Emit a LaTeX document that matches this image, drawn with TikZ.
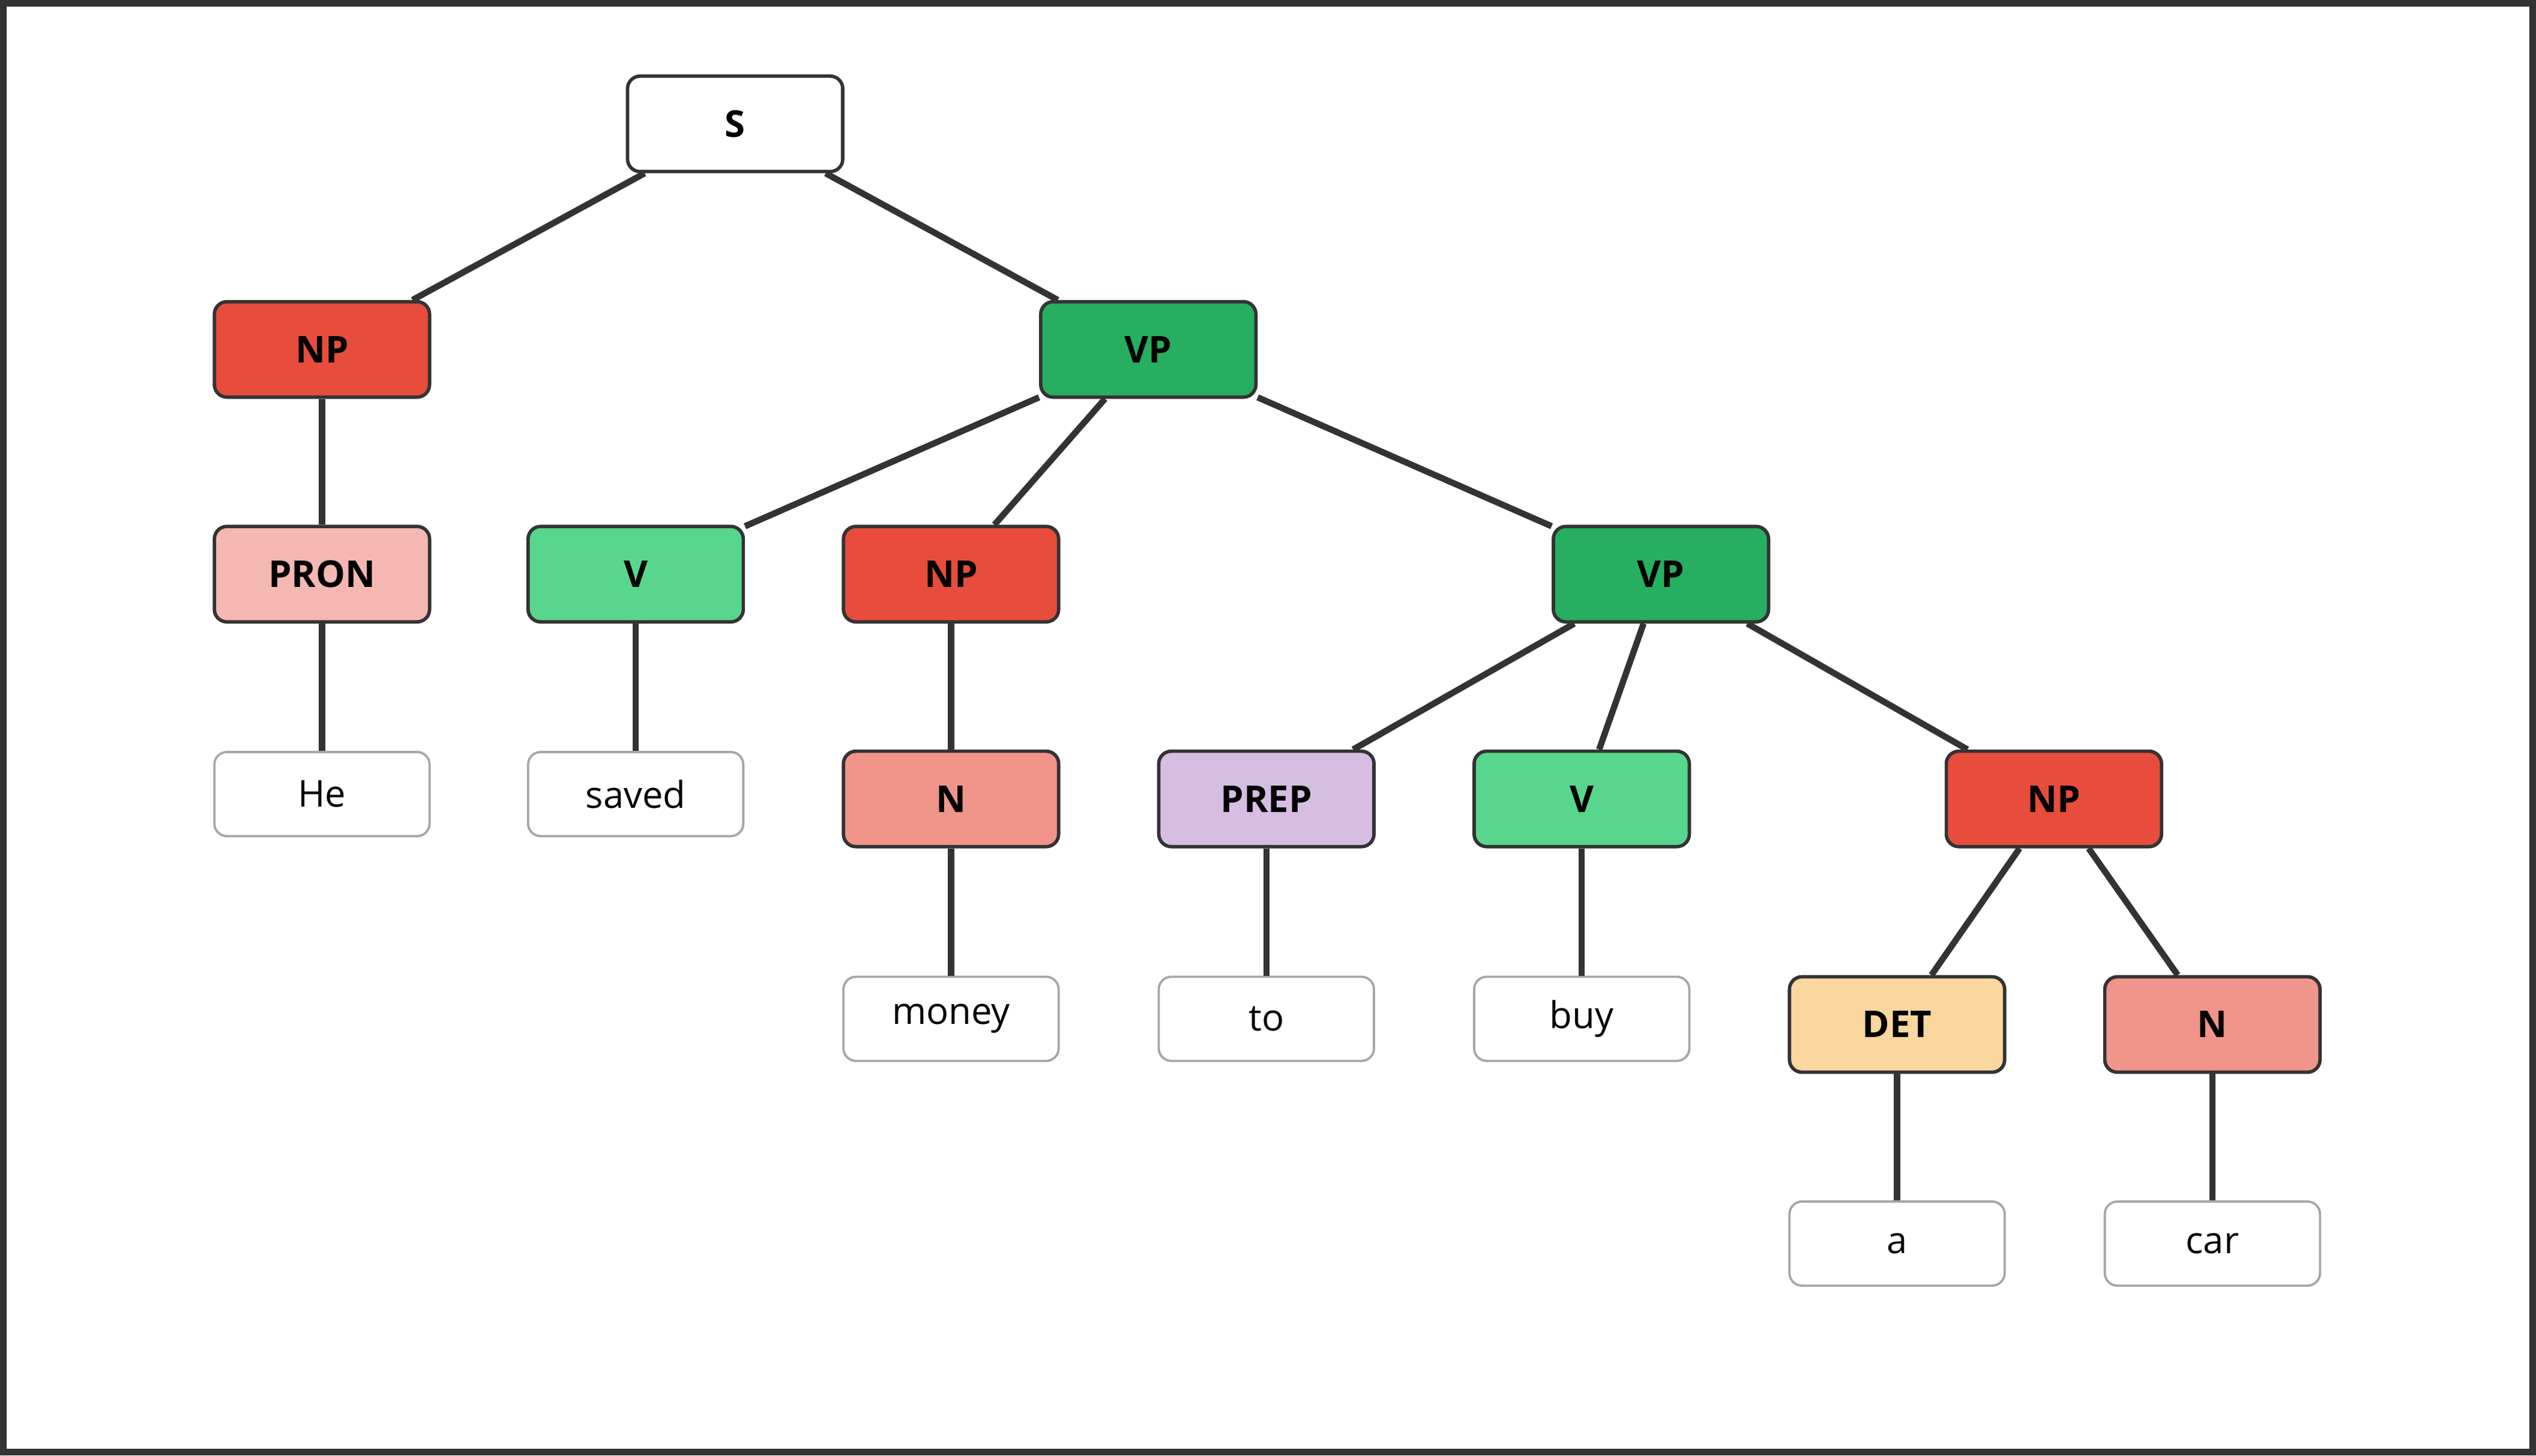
\documentclass[tikz,border=0pt]{standalone}
\usepackage{fontspec}
\setmainfont{Open Sans}
\usepackage{xcolor}
\definecolor{npred}{HTML}{E74C3C}
\definecolor{vpgreen}{HTML}{27AE60}
\definecolor{vgreen}{HTML}{58D68D}
\definecolor{pronpink}{HTML}{F5B7B1}
\definecolor{nsalmon}{HTML}{F1948A}
\definecolor{preplilac}{HTML}{D7BDE2}
\definecolor{detsand}{HTML}{F9D79F}
\definecolor{edgegray}{HTML}{333333}

\begin{document}
\begin{tikzpicture}[x=0.01cm, y=-0.01cm,
	tag/.style={draw=edgegray, line width=0.6pt, rounded corners=2.2pt, minimum width=1.33cm, minimum height=0.59cm, font=\fontsize{6.5}{8}\selectfont\bfseries, inner sep=0pt},
	word/.style={draw=gray!70, line width=0.4pt, rounded corners=2.2pt, minimum width=1.33cm, minimum height=0.52cm, font=\fontsize{6.5}{8}\selectfont, inner sep=0pt},
	link/.style={draw=edgegray, line width=1.1pt}
]
				\draw[edgegray, line width=1.2pt] (2,2) rectangle (1566,898);
				\useasboundingbox (0,0) rectangle (1568,900);
				% phrase nodes
				\node[tag, fill=white] (s) at (454.5,76.5) {S};
				\node[tag, fill=npred] (np1) at (199,216) {NP};
				\node[tag, fill=vpgreen] (vp1) at (710,216) {VP};
				\node[tag, fill=pronpink] (pron) at (199,355) {PRON};
				\node[tag, fill=vgreen] (v1) at (393,355) {V};
				\node[tag, fill=npred] (np2) at (588,355) {NP};
				\node[tag, fill=vpgreen] (vp2) at (1027,355) {VP};
				\node[tag, fill=nsalmon] (n1) at (588,494) {N};
				\node[tag, fill=preplilac] (prep) at (783,494) {PREP};
				\node[tag, fill=vgreen] (v2) at (978,494) {V};
				\node[tag, fill=npred] (np3) at (1270,494) {NP};
				\node[tag, fill=detsand] (det) at (1173,633.5) {DET};
				\node[tag, fill=nsalmon] (n2) at (1368,633.5) {N};
				% words
				\node[word] (he) at (199,491) {He};
				\node[word] (saved) at (393,491) {saved};
				\node[word] (money) at (588,630) {money};
				\node[word] (to) at (783,630) {to};
				\node[word] (buy) at (978,630) {buy};
				\node[word] (a) at (1173,769) {a};
				\node[word] (car) at (1368,769) {car};
				% branches
				\draw[link] (s) -- (np1);
				\draw[link] (s) -- (vp1);
				\draw[link] (np1) -- (pron);
				\draw[link] (pron) -- (he);
				\draw[link] (vp1) -- (v1);
				\draw[link] (vp1) -- (np2);
				\draw[link] (vp1) -- (vp2);
				\draw[link] (v1) -- (saved);
				\draw[link] (np2) -- (n1);
				\draw[link] (n1) -- (money);
				\draw[link] (vp2) -- (prep);
				\draw[link] (vp2) -- (v2);
				\draw[link] (vp2) -- (np3);
				\draw[link] (prep) -- (to);
				\draw[link] (v2) -- (buy);
				\draw[link] (np3) -- (det);
				\draw[link] (np3) -- (n2);
				\draw[link] (det) -- (a);
				\draw[link] (n2) -- (car);
			\end{tikzpicture}
\end{document}
